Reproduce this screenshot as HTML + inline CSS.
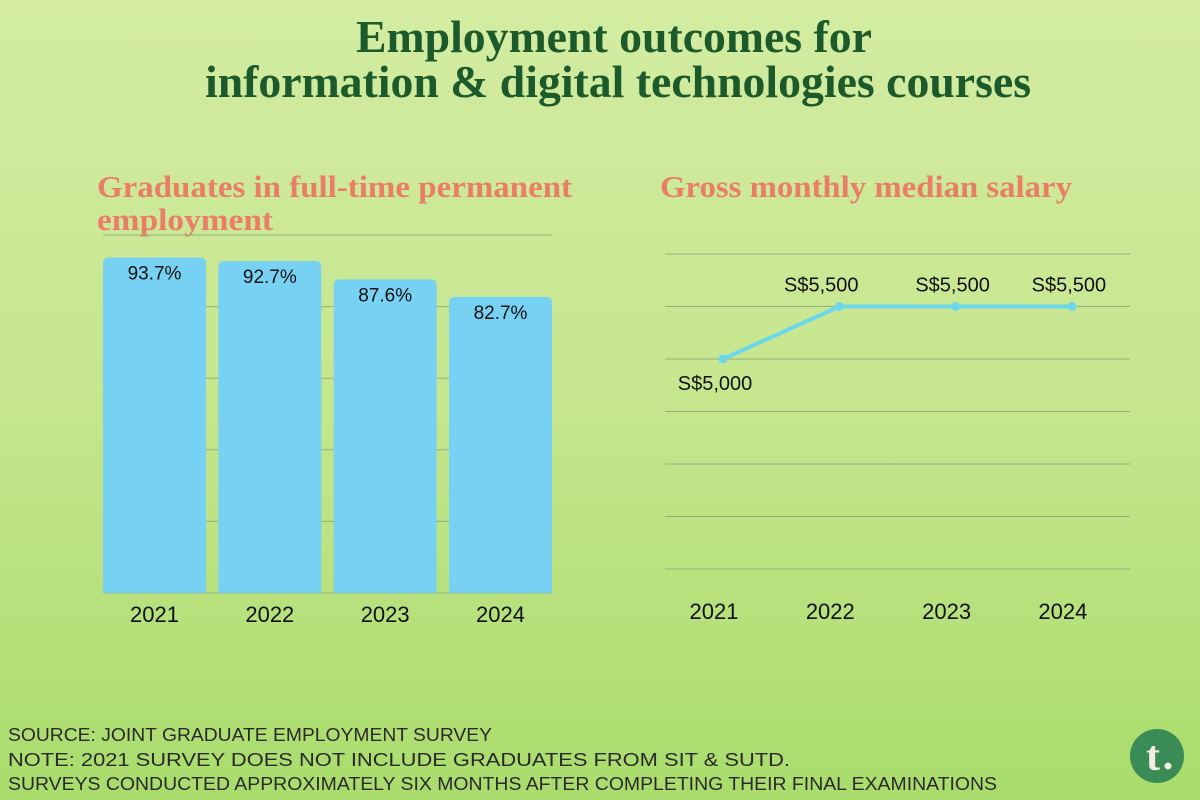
<!DOCTYPE html>
<html><head><meta charset="utf-8"><style>
html,body{margin:0;padding:0;width:1200px;height:800px;overflow:hidden}
svg{display:block}
</style></head><body>
<svg id="chart" width="1200" height="800" viewBox="0 0 1200 800">
<defs><linearGradient id="bg" x1="0" y1="0" x2="0" y2="1">
<stop offset="0" stop-color="#d3eca2"/><stop offset="0.5" stop-color="#c6e68e"/><stop offset="1" stop-color="#a9dc6c"/></linearGradient></defs>
<rect width="1200" height="800" fill="url(#bg)"/>
<g font-family="Liberation Serif, serif" font-weight="bold" fill="#1d5a2b" font-size="46" text-anchor="middle">
<text x="614" y="52" textLength="516" lengthAdjust="spacingAndGlyphs">Employment outcomes for</text>
<text x="618" y="97" textLength="826" lengthAdjust="spacingAndGlyphs">information &amp; digital technologies courses</text>
</g>
<g font-family="Liberation Serif, serif" font-weight="bold" fill="#e97d66" font-size="31">
<text x="97" y="197" textLength="475" lengthAdjust="spacingAndGlyphs">Graduates in full-time permanent</text>
<text x="97" y="230" textLength="176" lengthAdjust="spacingAndGlyphs">employment</text>
<text x="660" y="197" textLength="412" lengthAdjust="spacingAndGlyphs">Gross monthly median salary</text>
</g>
<g id="bars"></g>
<g id="line"></g>
<g font-family="Liberation Sans, sans-serif" font-size="18" fill="#2a2a2a">
<text x="8" y="741" textLength="484" lengthAdjust="spacingAndGlyphs">SOURCE: JOINT GRADUATE EMPLOYMENT SURVEY</text>
<text x="8" y="766" textLength="782" lengthAdjust="spacingAndGlyphs">NOTE: 2021 SURVEY DOES NOT INCLUDE GRADUATES FROM SIT &amp; SUTD.</text>
<text x="8" y="790" textLength="989" lengthAdjust="spacingAndGlyphs">SURVEYS CONDUCTED APPROXIMATELY SIX MONTHS AFTER COMPLETING THEIR FINAL EXAMINATIONS</text>
</g>
<g>
<circle cx="1157" cy="756" r="27" fill="#3a8b55"/>
<text x="1153" y="770" font-family="Liberation Serif, serif" font-weight="bold" font-size="42" fill="#f3ede0" text-anchor="middle">t</text>
<circle cx="1168" cy="766" r="3.5" fill="#f3ede0"/>
</g>
</svg>
<script>
const barYears=['2021','2022','2023','2024'];
const barValues=[93.7,92.7,87.6,82.7];
const barLabels=['93.7%','92.7%','87.6%','82.7%'];
const barTicks=[0,20,40,60,80,100];
const lineYears=['2021','2022','2023','2024'];
const lineValues=[5000,5500,5500,5500];
const lineLabels=['S$5,000','S$5,500','S$5,500','S$5,500'];
const lineTicks=[3000,3500,4000,4500,5000,5500,6000];
const NS='http://www.w3.org/2000/svg';
function mk(t,a,p){const e=document.createElementNS(NS,t);for(const k in a)e.setAttribute(k,a[k]);p.appendChild(e);return e;}
// bar chart
const bg=document.getElementById('bars');
const bx0=103,bx1=552,by0=593,by1=235;
const by=v=>by0-(v-0)/(100-0)*(by0-by1);
const bw=103,bstep=(bx1-bx0-bw)/(barValues.length-1);
barTicks.forEach(t=>{const l=mk('line',{x1:bx0,x2:bx1,y1:by(t),y2:by(t),stroke:'#93b07a','stroke-width':1},bg);

});
barValues.forEach((v,i)=>{const x=bx0+i*bstep;
const r=mk('path',{d:`M${x},${by0}V${by(v)+6}Q${x},${by(v)} ${x+6},${by(v)}H${x+bw-6}Q${x+bw},${by(v)} ${x+bw},${by(v)+6}V${by0}Z`,fill:'#76d1f2'},bg);


const t=mk('text',{x:x+bw/2,y:by(v)+22,'text-anchor':'middle','font-family':'Liberation Sans, sans-serif','font-size':19,fill:'#111'},bg);t.textContent=barLabels[i];


const y=mk('text',{x:x+bw/2,y:622,'text-anchor':'middle','font-family':'Liberation Sans, sans-serif','font-size':22,fill:'#111'},bg);y.textContent=barYears[i];

});
// line chart
const lg=document.getElementById('line');
const lx0=665,lx1=1130,ly0=569,ly1=254;
const ly=v=>ly0-(v-3000)/(6000-3000)*(ly0-ly1);
const lx=i=>723+i*116.3;
lineTicks.forEach(t=>{const l=mk('line',{x1:lx0,x2:lx1,y1:ly(t),y2:ly(t),stroke:'#93b07a','stroke-width':1},lg);

});
const pl=mk('polyline',{points:lineValues.map((v,i)=>lx(i)+','+ly(v)).join(' '),fill:'none',stroke:'#6ad8ea','stroke-width':4},lg);


lineValues.forEach((v,i)=>{const c=mk('circle',{cx:lx(i),cy:ly(v),r:4.5,fill:'#6ad8ea'},lg);


const below=i===0;
const t=mk('text',{x:lx(i)-(i===1?18:i===0?8:3),y:below?ly(v)+31:ly(v)-15,'text-anchor':'middle','font-family':'Liberation Sans, sans-serif','font-size':20,fill:'#111'},lg);t.textContent=lineLabels[i];


const y=mk('text',{x:lx(i)-9,y:619,'text-anchor':'middle','font-family':'Liberation Sans, sans-serif','font-size':22,fill:'#111'},lg);y.textContent=lineYears[i];

});
</script>
</body></html>
